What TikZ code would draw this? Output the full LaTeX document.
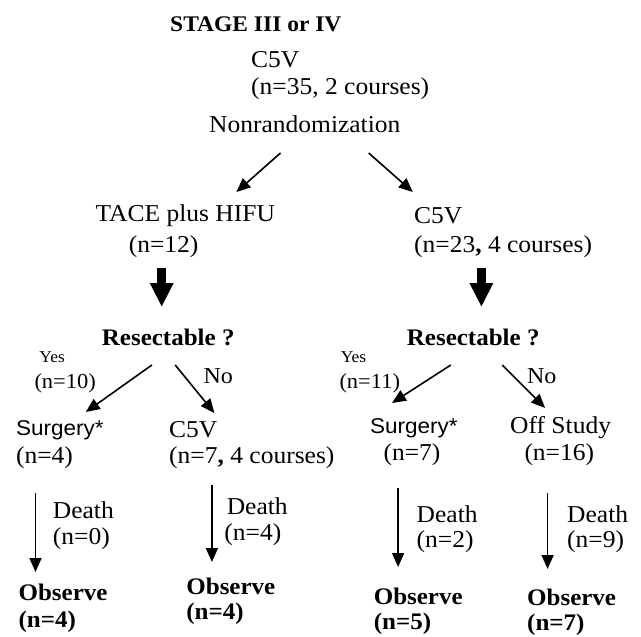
\documentclass[tikz,border=0pt]{standalone}
\usepackage{fontspec}
\setmainfont{Liberation Serif}
\newfontfamily\arialf{Liberation Sans}
\usetikzlibrary{arrows.meta}
\begin{document}
\begin{tikzpicture}[x=1pt,y=-1pt,
  base/.style={inner sep=0pt, anchor=west, yscale=0.95, transform shape},
  txt/.style={base, font=\fontsize{25.5}{28}\selectfont},
  btxt/.style={base, font=\fontsize{25}{28}\selectfont\bfseries},
  stagetxt/.style={base, font=\fontsize{23.5}{26}\selectfont\bfseries},
  smalltxt/.style={base, font=\fontsize{17.5}{20}\selectfont},
  midtxt/.style={base, font=\fontsize{22.5}{25}\selectfont},
  notxt/.style={base, font=\fontsize{24}{27}\selectfont},
  sanstxt/.style={base, font=\arialf\fontsize{22.5}{25}\selectfont},
  arr/.style={line width=1.6pt, -{Triangle[length=14pt,width=12pt]}},
  varr/.style={line width=1.6pt, -{Triangle[length=14pt,width=12pt]}},
  bigarr/.style={line width=9pt, -{Triangle[length=24pt,width=22pt]}},
]
\useasboundingbox (0,0) rectangle (641,637);

% top
\node[stagetxt] (stage) at (170,24) {STAGE III or IV};
\node[txt] (c5v) at (251,60) {C5V};
\node[txt] (n35) at (251,89) {(n=35, 2 courses)};
\node[txt] (nonr) at (209,124) {Nonrandomization};

\coordinate (a1s) at (280.5,153); \coordinate (a1e) at (236.4,192);
\coordinate (a2s) at (368.7,153); \coordinate (a2e) at (412.8,192);
\draw[arr] (a1s) -- (a1e);
\draw[arr] (a2s) -- (a2e);

% second level
\node[txt] (tace) at (95.5,216) {TACE plus HIFU};
\node[txt] (c5vr) at (414,216) {C5V};
\node[txt] (n12) at (128.6,247) {(n=12)};
\node[txt] (n23) at (414,247) {(n=23\textbf{,} 4 courses)};

\coordinate (b1s) at (161.7,268); \coordinate (b1e) at (161.7,307);
\coordinate (b2s) at (481.4,268); \coordinate (b2e) at (481.4,307);
\draw[bigarr] (b1s) -- (b1e);
\draw[bigarr] (b2s) -- (b2e);

% resectable
\node[btxt] (resL) at (101.7,337) {Resectable ?};
\node[btxt] (resR) at (406.7,337) {Resectable ?};

\node[smalltxt] (yesL) at (39.2,357) {Yes};
\node[midtxt] (n10) at (34.3,383) {(n=10)};
\node[notxt] (noL) at (203.4,376) {No};
\node[smalltxt] (yesR) at (340.6,357) {Yes};
\node[midtxt] (n11) at (339.3,383) {(n=11)};
\node[notxt] (noR) at (526.8,376) {No};

\coordinate (c1s) at (151.9,365); \coordinate (c1e) at (85.8,412);
\coordinate (c2s) at (175.2,365); \coordinate (c2e) at (214.4,413);
\coordinate (c3s) at (450.8,365); \coordinate (c3e) at (392,403);
\coordinate (c4s) at (502.3,365); \coordinate (c4e) at (545.1,408);
\draw[arr] (c1s) -- (c1e);
\draw[arr] (c2s) -- (c2e);
\draw[arr] (c3s) -- (c3e);
\draw[arr] (c4s) -- (c4e);

% third level
\node[sanstxt] (surgL) at (15.9,430) {Surgery*};
\node[txt] (n4a) at (15.9,458) {(n=4)};
\node[txt] (c5vb) at (169,430) {C5V};
\node[txt] (n7c) at (169,458) {(n=7\textbf{,} 4 courses)};
\node[sanstxt] (surgR) at (370,428) {Surgery*};
\node[txt] (n7) at (383.4,455) {(n=7)};
\node[txt] (off) at (510,428) {Off Study};
\node[txt] (n16) at (524.3,455) {(n=16)};

\coordinate (d1s) at (35.5,493); \coordinate (d1e) at (35.5,572);
\coordinate (d2s) at (211.9,485); \coordinate (d2e) at (211.9,562);
\coordinate (d3s) at (398.1,488); \coordinate (d3e) at (398.1,567);
\coordinate (d4s) at (547.6,493); \coordinate (d4e) at (547.6,569);
\draw[varr] (d1s) -- (d1e);
\draw[varr] (d2s) -- (d2e);
\draw[varr] (d3s) -- (d3e);
\draw[varr] (d4s) -- (d4e);

\node[txt] (dth1) at (52.7,510) {Death};
\node[txt] (dn1) at (52.7,539) {(n=0)};
\node[txt] (dth2) at (226.6,506) {Death};
\node[txt] (dn2) at (224.2,535) {(n=4)};
\node[txt] (dth3) at (416.5,514) {Death};
\node[txt] (dn3) at (416.5,542) {(n=2)};
\node[txt] (dth4) at (567,514) {Death};
\node[txt] (dn4) at (567,542) {(n=9)};

% observe
\node[btxt] (obs1) at (18.4,592) {Observe};
\node[btxt] (on1) at (18.4,622) {(n=4)};
\node[btxt] (obs2) at (186.2,586) {Observe};
\node[btxt] (on2) at (186.2,614) {(n=4)};
\node[btxt] (obs3) at (373.6,596) {Observe};
\node[btxt] (on3) at (373.6,624) {(n=5)};
\node[btxt] (obs4) at (527,597) {Observe};
\node[btxt] (on4) at (527,625) {(n=7)};
\end{tikzpicture}
\end{document}
